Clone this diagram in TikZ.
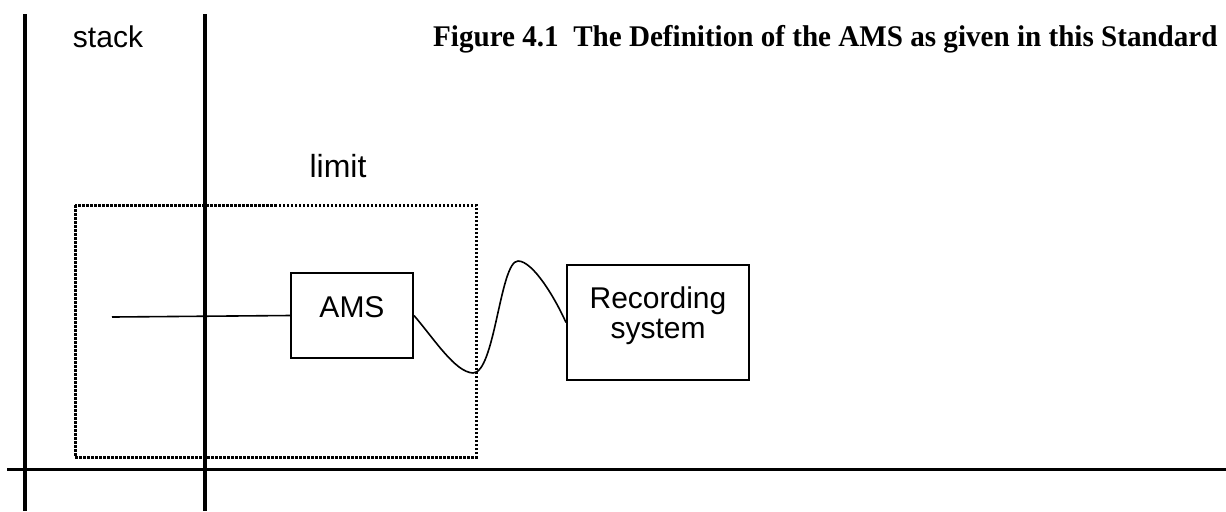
\documentclass[tikz,border=0pt]{standalone}
\usepackage{fontspec}
\setmainfont{Liberation Serif}
\setsansfont{Liberation Sans}
\newfontfamily\titlefont[FakeStretch=0.97]{Liberation Serif}

\begin{document}
\begin{tikzpicture}[x=0.5pt,y=-0.5pt,
    wall/.style={line width=2.25pt},
    ground/.style={line width=1.5pt},
    limitline/.style={line width=1.5pt, dash pattern=on 1.25pt off 0.75pt},
    unit/.style={draw, line width=1pt, inner sep=0pt},
    wire/.style={line width=0.8pt},
    sans/.style={font=\sffamily\fontsize{15}{15}\selectfont, inner sep=0pt}
]

    \useasboundingbox (0,0) rectangle (1226,511);

    % Draw the stack walls and the ground
    \draw[wall] (25,14) -- (25,511);
    \draw[wall] (205,14) -- (205,511);
    \draw[ground] (7,469) -- (1226,469);

    % Draw the limit
    \draw[limitline] (75,205) rectangle (476,457);

    % Define the points
    \coordinate (probe) at (112,317);

    % Draw the boxes
    \node[unit, minimum width=61pt, minimum height=42.5pt] (ams) at (352,315.5) {};
    \node[unit, minimum width=91pt, minimum height=57.5pt] (rec) at (658,322.5) {};

    % Label the boxes
    \node[sans, anchor=base] (amstext) at (352,317) {AMS};
    \node[sans, align=center] (rectext) at (658,316) {Recording\\system};

    % Label the parts
    \node[sans, anchor=base] (stack) at (108,47) {stack};
    \node[sans, anchor=base, font=\sffamily\fontsize{16}{16}\selectfont] (limit) at (338,177) {limit};
    \node[anchor=base east, inner sep=0pt, font=\titlefont\bfseries\fontsize{15}{15}\selectfont] (title) at (1218,46.5)
        {Figure 4.1\ \ The Definition of the AMS as given in this Standard};

    % Draw the lines
    \draw[wire] (probe) -- (ams.west);
    \draw[wire] (ams.east) .. controls (435,340) and (455,372) .. (473,373)
        .. controls (495,373) and (500,261) .. (518,261)
        .. controls (533,261) and (555,298) .. (rec.west);

\end{tikzpicture}
\end{document}
